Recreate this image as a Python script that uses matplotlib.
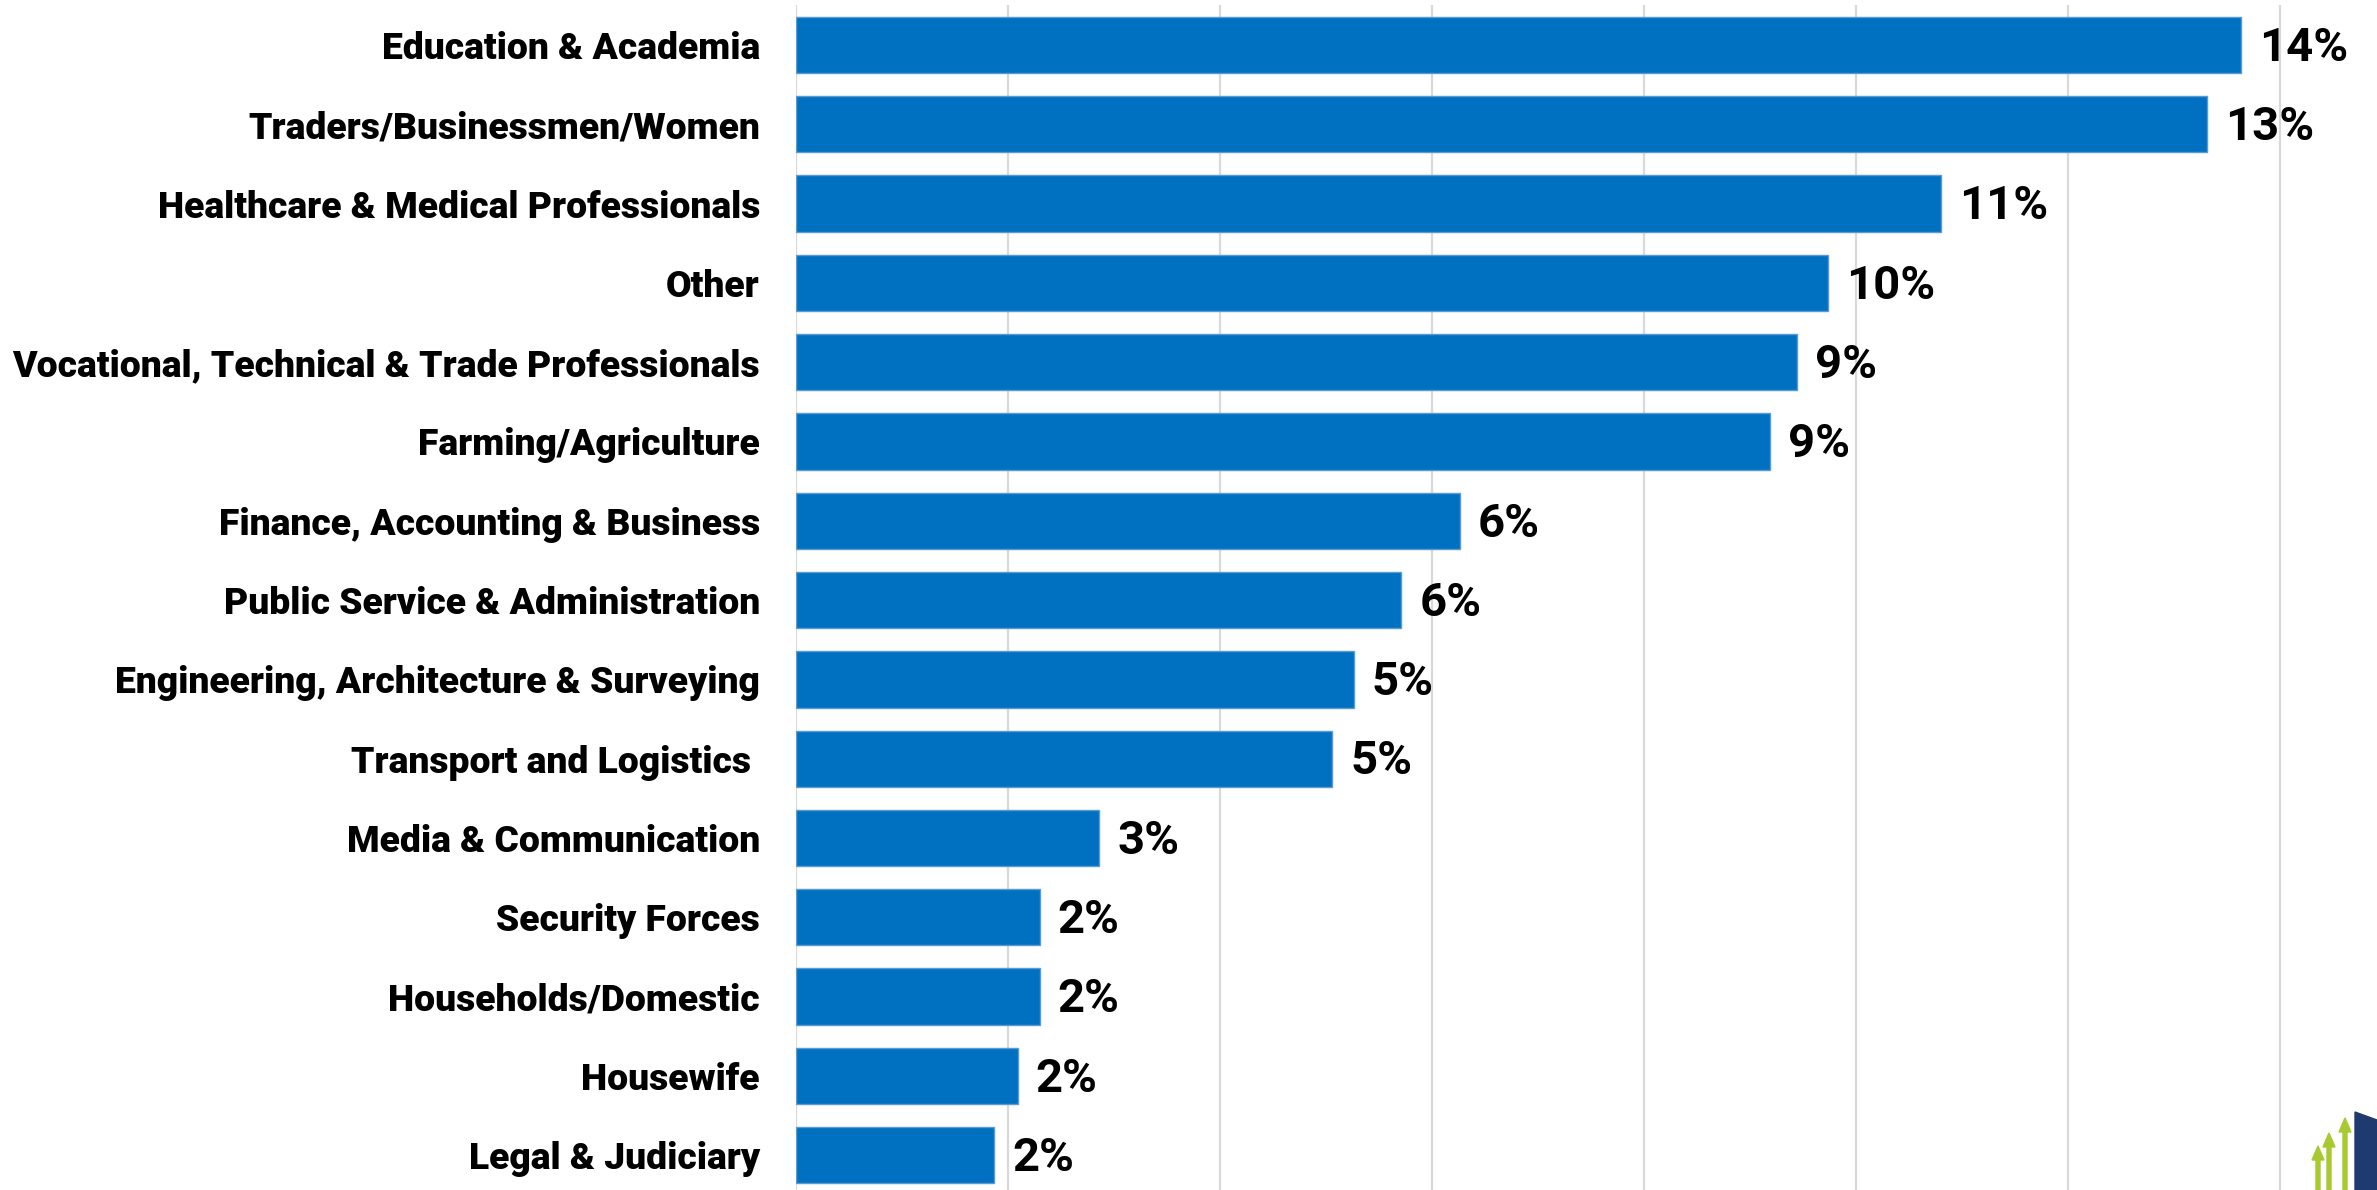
import numpy as np
import matplotlib
matplotlib.use('Agg')
import matplotlib.pyplot as plt
from matplotlib.patches import Polygon, FancyArrow

# occupations, top to bottom
categories = [
    'Education & Academia',
    'Traders/Businessmen/Women',
    'Healthcare & Medical Professionals',
    'Other',
    'Vocational, Technical & Trade Professionals',
    'Farming/Agriculture',
    'Finance, Accounting & Business',
    'Public Service & Administration',
    'Engineering, Architecture & Surveying',
    'Transport and Logistics ',
    'Media & Communication',
    'Security Forces',
    'Households/Domestic',
    'Housewife',
    'Legal & Judiciary',
]
shares = [13.63, 13.31, 10.80, 9.74, 9.44, 9.19, 6.26, 5.71, 5.26, 5.06,
          2.86, 2.30, 2.30, 2.09, 1.87]

BAR = '#0070C0'
EDGE = '#5B9BD5'
GRID = '#D9D9D9'

W, H = 2377, 1190
fig = plt.figure(figsize=(W / 100, H / 100), dpi=100)
fig.patch.set_facecolor('white')

ax_left = 796 / W
ax = fig.add_axes([ax_left, -0.004, 1 - ax_left, 1.004 - 5.4 / H])

y = np.arange(len(categories))
ax.barh(y, shares, height=0.71, color=BAR, edgecolor=EDGE, linewidth=1.0, zorder=3)

for yi, v in zip(y, shares):
    ax.annotate(f'{round(v):.0f}%', (v, yi), xytext=(13, -2), textcoords='offset points',
                va='center', ha='left', fontsize=34, fontweight='bold',
                family='Roboto', color='black', zorder=4)

ax.set_xlim(0, (W - 796) / 106)
ax.set_ylim(len(categories) - 0.5, -0.5)
ax.set_xticks(np.arange(0, 15, 2))
ax.set_xticklabels([])
ax.set_yticks(y)
ax.set_yticklabels(categories, fontsize=26.8, fontweight='heavy', family='Roboto')
for lab in ax.get_yticklabels():
    lab.set_va('center_baseline')
ax.tick_params(axis='both', length=0)
ax.tick_params(axis='y', pad=26)
ax.grid(axis='x', color=GRID, linewidth=1.6, zorder=0)
ax.grid(axis='y', visible=False)
for s in ax.spines.values():
    s.set_visible(False)
ax.set_facecolor('white')

# partial logo at bottom-right corner
def fx(px):
    return px / W

def fy(py):
    return 1 - py / H

for xc, top in [(2318, 1146), (2329, 1133), (2345, 1118)]:
    fig.patches.append(FancyArrow(fx(xc), fy(1195), 0, fy(top) - fy(1195),
                                  width=fx(4), head_width=fx(12), head_length=14 / H,
                                  length_includes_head=True, color='#A8C92F',
                                  transform=fig.transFigure, figure=fig))
fig.patches.append(Polygon([(fx(2355), fy(1190)), (fx(2355), fy(1112)),
                            (fx(2377), fy(1120)), (fx(2377), fy(1190))],
                           closed=True, color='#1F3A6E', transform=fig.transFigure, figure=fig))

fig.savefig('out.png', dpi=100, facecolor='white')
